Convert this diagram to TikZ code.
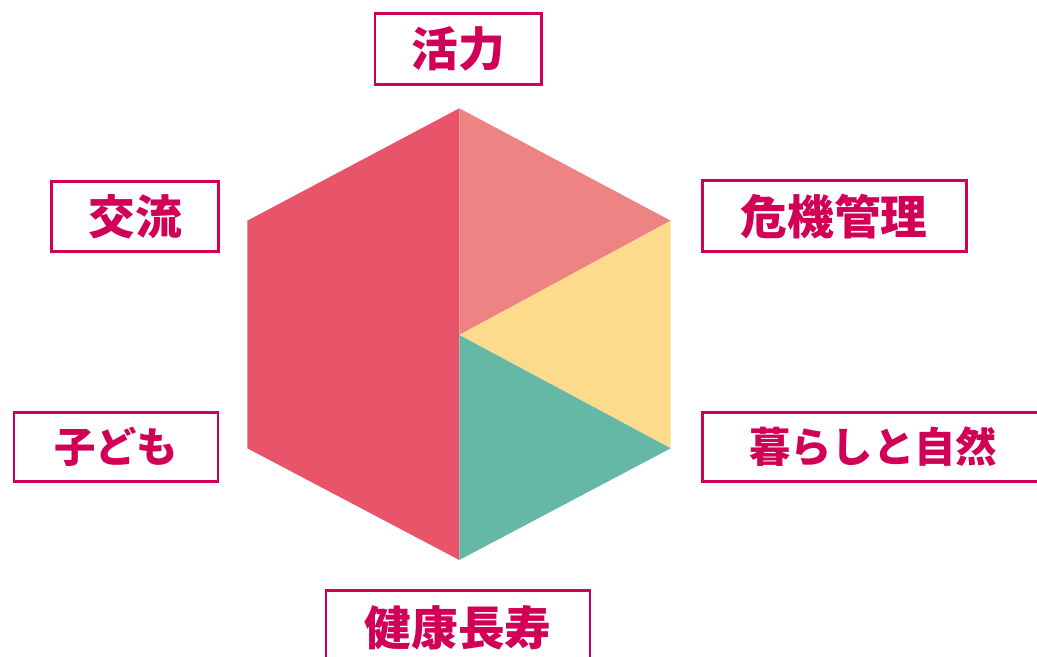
\documentclass[tikz,border=0pt]{standalone}
\usepackage{fontspec}
\newfontfamily\jp{Noto Sans CJK JP}
\definecolor{frame}{RGB}{209,0,86}
\definecolor{hexred}{RGB}{232,84,106}
\definecolor{hexpink}{RGB}{238,131,131}
\definecolor{hexyellow}{RGB}{252,220,140}
\definecolor{hexteal}{RGB}{102,184,166}
\tikzset{
  lbl/.style={draw=frame, line width=2.2pt, text=frame, inner sep=0pt,
    font=\jp\bfseries\fontsize{35}{38}\selectfont, fill=white},
  kanalbl/.style={lbl, font=\jp\bfseries\fontsize{31}{34}\selectfont},
}
\begin{document}
\begin{tikzpicture}[x=0.75pt,y=-0.75pt]
\useasboundingbox (0,0) rectangle (1037,656);
\clip (0,0) rectangle (1037,656);
\fill[white] (0,0) rectangle (1037,656);
% hexagon vertices
\coordinate (T) at (459.3,108.3);
\coordinate (UR) at (670.7,220.7);
\coordinate (LR) at (670.7,448.3);
\coordinate (B) at (459.3,560);
\coordinate (LL) at (247.3,448.3);
\coordinate (UL) at (247.3,220.7);
\coordinate (C) at (459.3,335);
\fill[hexred] (T) -- (UL) -- (LL) -- (B) -- cycle;
\fill[hexpink] (T) -- (UR) -- (C) -- cycle;
\fill[hexyellow] (UR) -- (LR) -- (C) -- cycle;
\fill[hexteal] (C) -- (LR) -- (B) -- cycle;
% labels
\node[lbl, minimum width=125pt, minimum height=53pt] (katsuryoku) at (458.3,48.8) {活力};
\node[lbl, minimum width=125pt, minimum height=53pt] (koryu) at (135,216.4) {交流};
\node[lbl, minimum width=198pt, minimum height=53pt] (kiki) at (834.3,216.2) {危機管理};
\node[kanalbl, minimum width=153pt, minimum height=52pt] (kodomo) at (116,446.7) {子ども};
\node[kanalbl, minimum width=256pt, minimum height=52pt] (kurashi) at (873,446.7) {暮らしと自然};
\node[lbl, minimum width=198pt, minimum height=56pt] (kenko) at (458,628) {健康長寿};
\end{tikzpicture}
\end{document}
